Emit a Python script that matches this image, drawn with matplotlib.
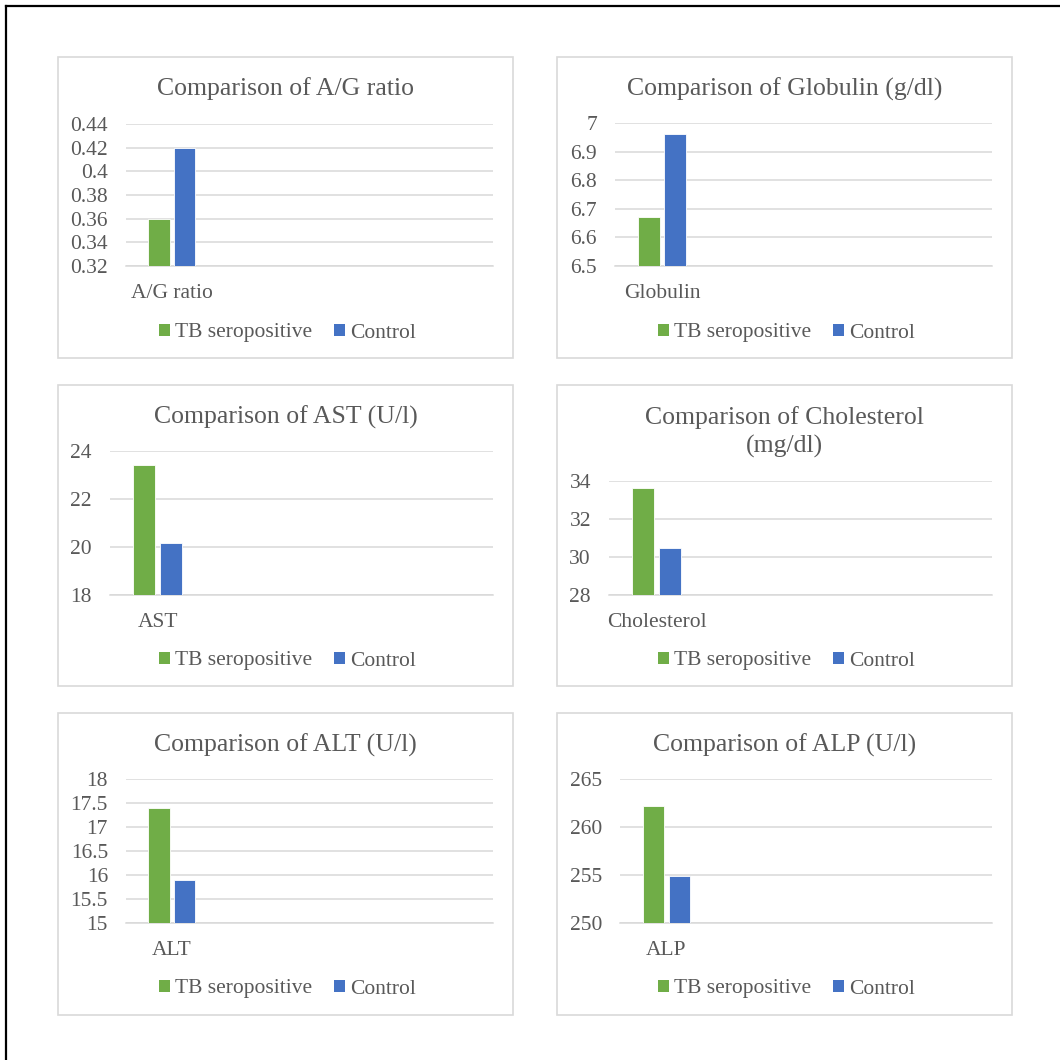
import matplotlib
matplotlib.use("Agg")
import matplotlib.pyplot as plt
from matplotlib.patches import Rectangle, Patch
from matplotlib.lines import Line2D
from matplotlib.font_manager import FontProperties
import numpy as np

# parameter names, panel titles and the two group means
names = ["A/G ratio", "Globulin", "AST", "Cholesterol", "ALT", "ALP"]
titles = ["Comparison of A/G ratio", "Comparison of Globulin (g/dl)",
          "Comparison of AST (U/l)", "Comparison of Cholesterol\n(mg/dl)",
          "Comparison of ALT (U/l)", "Comparison of ALP (U/l)"]
tb_pos = [0.36, 6.67, 23.4, 33.65, 17.4, 262.2]
control = [0.42, 6.96, 20.15, 30.5, 15.9, 254.9]
y_min = [0.32, 6.5, 18, 28, 15, 250]
y_max = [0.44, 7.0, 24, 34, 18, 265]
y_step = [0.02, 0.1, 2, 2, 0.5, 5]

W = H = 1060
GREEN = "#70AD47"
BLUE = "#4472C4"
GRID = "#D9D9D9"
TXT = "#595959"
plt.rcParams["font.family"] = ["Liberation Serif", "DejaVu Serif"]
legend_font = FontProperties(family="Liberation Serif", size=15.5)

# layout in pixels: panel boxes and plot areas (x0, y0, x1, y1)
boxes = [(58, 57, 513, 358), (557, 57, 1012, 358),
         (58, 385, 513, 686), (557, 385, 1012, 686),
         (58, 713, 513, 1015), (557, 713, 1012, 1015)]
plots = [(126, 124, 493, 266), (615, 123, 992, 266),
         (110, 451, 493, 595), (609, 481, 992, 595),
         (126, 779, 493, 923), (620, 779, 992, 923)]


def fx(x):
    return x / W


def fy(y):
    return 1 - y / H


fig = plt.figure(figsize=(W / 100, H / 100), dpi=100)

# outer frame (top and left edges only)
fig.add_artist(Line2D([fx(6), 1], [fy(6), fy(6)], color="black", lw=1.6))
fig.add_artist(Line2D([fx(6), fx(6)], [fy(6), 0], color="black", lw=1.6))

for i in range(6):
    bx0, by0, bx1, by1 = boxes[i]
    fig.add_artist(Rectangle((fx(bx0), fy(by1)), fx(bx1 - bx0), (by1 - by0) / H,
                             fill=False, edgecolor=GRID, lw=1.2))

    x0, y0, x1, y1 = plots[i]
    ax = fig.add_axes([fx(x0), fy(y1), fx(x1 - x0), (y1 - y0) / H])
    ax.bar([-0.14], [tb_pos[i] - y_min[i]], bottom=y_min[i], width=0.23,
           color=GREEN, edgecolor="white", lw=0.6, zorder=3)
    ax.bar([0.14], [control[i] - y_min[i]], bottom=y_min[i], width=0.23,
           color=BLUE, edgecolor="white", lw=0.6, zorder=3)
    ax.set_xlim(-0.5, 3.5)
    ax.set_ylim(y_min[i], y_max[i])
    ticks = np.arange(y_min[i], y_max[i] + y_step[i] / 2, y_step[i])
    ax.set_yticks(ticks)
    ax.set_yticklabels(["%g" % round(t, 3) for t in ticks])
    ax.set_xticks([0])
    ax.set_xticklabels([names[i]])
    ax.tick_params(axis="y", length=0, pad=13, labelsize=15.5, labelcolor=TXT)
    ax.tick_params(axis="x", length=0, pad=13, labelsize=15.5, labelcolor=TXT)
    ax.grid(axis="y", color=GRID, lw=1.1, zorder=0)
    for s in ["top", "right", "left"]:
        ax.spines[s].set_visible(False)
    ax.spines["bottom"].set_color(GRID)
    ax.spines["bottom"].set_linewidth(1.1)

    cx = (bx0 + bx1) / 2
    ty = by0 + (32 if i != 3 else 47)
    fig.text(fx(cx), fy(ty), titles[i], ha="center", va="center",
             fontsize=18.5, color=TXT, linespacing=1.3)

    handles = [Patch(facecolor=GREEN, label="TB seropositive"),
               Patch(facecolor=BLUE, label="Control")]
    fig.legend(handles=handles, loc="center", ncol=2, frameon=False,
               bbox_to_anchor=(fx(cx + 2), fy(by0 + 276)), prop=legend_font,
               handlelength=0.5, handleheight=0.5, handletextpad=0.25,
               columnspacing=1.0, labelcolor=TXT, borderaxespad=0)

fig.savefig("out.png", dpi=100, facecolor="white")
